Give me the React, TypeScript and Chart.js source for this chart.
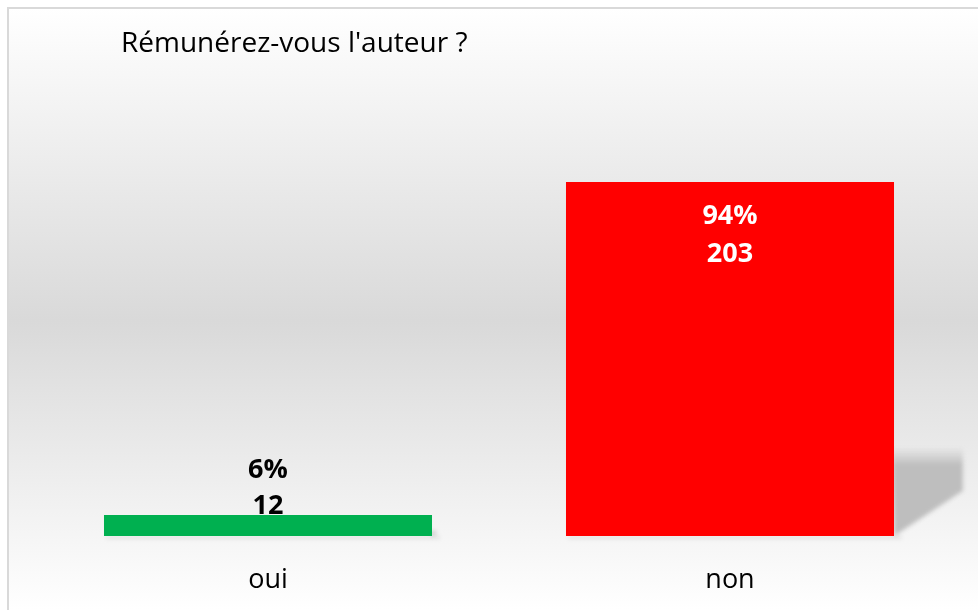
import React, { useEffect, useRef } from "react";
import { Chart, registerables } from "chart.js";

Chart.register(...registerables);

const categories = ["oui", "non"];
const counts = [12, 203];
const barColors = ["#00B050", "#FF0000"];
const labelColors = ["#000000", "#FFFFFF"];
const titleText = "Rémunérez-vous l'auteur ?";
const yMax = 250;
const FONT = "'Open Sans', sans-serif";

const backgroundPlugin = {
  id: "bgPlugin",
  beforeDraw(chart: any) {
    const { ctx, width, height } = chart;
    ctx.save();
    ctx.fillStyle = "#ffffff";
    ctx.fillRect(0, 0, width, height);
    const g = ctx.createLinearGradient(0, 8, 0, height);
    g.addColorStop(0, "#ffffff");
    g.addColorStop(0.52, "#d9d9d9");
    g.addColorStop(1, "#ffffff");
    ctx.fillStyle = g;
    ctx.fillRect(8, 8, width - 8, height - 8);
    ctx.strokeStyle = "#d9d9d9";
    ctx.lineWidth = 2;
    ctx.beginPath();
    ctx.moveTo(8, height);
    ctx.lineTo(8, 8);
    ctx.lineTo(width, 8);
    ctx.stroke();
    ctx.fillStyle = "#000000";
    ctx.font = `28px ${FONT}`;
    ctx.textAlign = "left";
    ctx.textBaseline = "alphabetic";
    ctx.fillText(titleText, 121, 52);
    ctx.restore();
  },
};

const shadowPlugin = {
  id: "shadowPlugin",
  beforeDatasetsDraw(chart: any) {
    const { ctx } = chart;
    const meta = chart.getDatasetMeta(0);
    meta.data.forEach((bar: any) => {
      const { x, y, base, width } = bar.getProps(["x", "y", "base", "width"], true);
      const h = base - y;
      const R = x + width / 2;
      const L = x - width / 2;
      const top = base - 0.25 * h;
      const sh = base - top;
      const sw = Math.min(0.21 * width, 0.2 * h);
      ctx.save();
      ctx.filter = "blur(2px)";
      const g = ctx.createLinearGradient(0, top, 0, top + Math.max(sh * 0.2, 1));
      g.addColorStop(0, "rgba(190,190,190,0)");
      g.addColorStop(1, "rgba(190,190,190,1)");
      ctx.fillStyle = g;
      ctx.beginPath();
      ctx.moveTo(R - 2, top);
      ctx.lineTo(R + sw, top);
      ctx.lineTo(R + sw, top + 0.49 * sh);
      ctx.lineTo(R, base);
      ctx.closePath();
      ctx.fill();
      ctx.fillStyle = "rgba(0,0,0,0.08)";
      ctx.fillRect(L + 2, base, width + 6, 3);
      ctx.restore();
    });
  },
};

const labelPlugin = {
  id: "labelPlugin",
  afterDatasetsDraw(chart: any) {
    const { ctx } = chart;
    const meta = chart.getDatasetMeta(0);
    const total = counts.reduce((a, b) => a + b, 0);
    ctx.save();
    ctx.font = `bold 27px ${FONT}`;
    ctx.textAlign = "center";
    ctx.textBaseline = "middle";
    meta.data.forEach((bar: any, i: number) => {
      const { x, y, base } = bar.getProps(["x", "y", "base"], true);
      const h = base - y;
      const pct = Math.round((counts[i] / total) * 100) + "%";
      let y1: number, y2: number;
      if (h > 100) {
        y1 = y + 34;
        y2 = y + 72;
      } else {
        y2 = y - 9;
        y1 = y2 - 36;
      }
      ctx.fillStyle = labelColors[i];
      ctx.fillText(pct, x, y1);
      ctx.fillText(String(counts[i]), x, y2);
    });
    ctx.restore();
  },
};

export default function App() {
  const ref = useRef<HTMLCanvasElement | null>(null);
  useEffect(() => {
    if (!ref.current) return;
    const chart = new Chart(ref.current, {
      type: "bar",
      data: {
        labels: categories,
        datasets: [
          {
            data: counts,
            backgroundColor: barColors,
            barPercentage: 0.71,
            categoryPercentage: 1,
          },
        ],
      },
      options: {
        responsive: false,
        animation: false,
        devicePixelRatio: 1,
        layout: { padding: { left: 37, right: 17, top: 100, bottom: 0 } },
        plugins: {
          legend: { display: false },
          title: { display: false },
          tooltip: { enabled: false },
        },
        scales: {
          x: {
            grid: { display: false, drawTicks: false },
            border: { display: false },
            ticks: { color: "#000000", font: { family: FONT, size: 27 }, padding: 28 },
            afterFit(scale: any) {
              scale.height = 74;
            },
          },
          y: { display: false, min: 0, max: yMax },
        },
      },
      plugins: [backgroundPlugin, shadowPlugin, labelPlugin],
    } as any);
    return () => chart.destroy();
  }, []);
  return (
    <div style={{ position: "fixed", left: 0, top: 0, width: 978, height: 610 }}>
      <canvas ref={ref} width={978} height={610} />
    </div>
  );
}
